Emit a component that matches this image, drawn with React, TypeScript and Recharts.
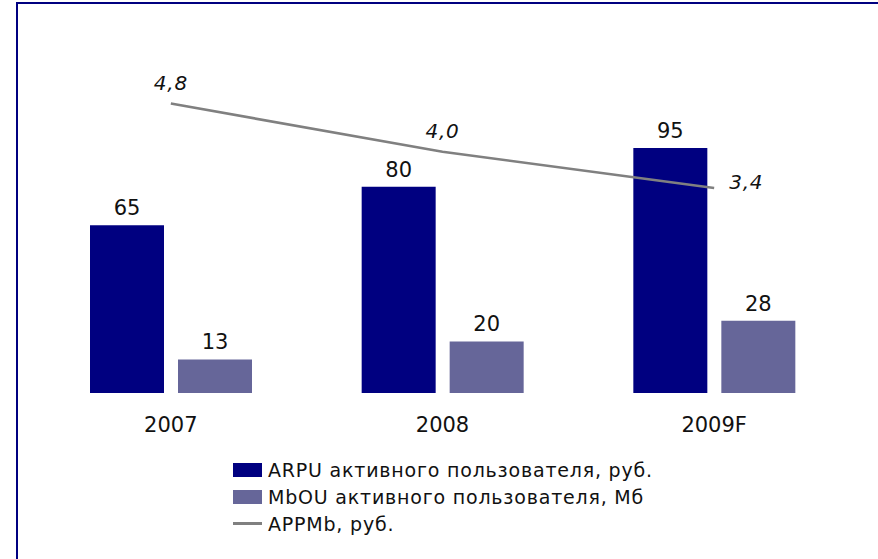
import React from "react";
import {
  ComposedChart,
  Bar,
  Line,
  XAxis,
  YAxis,
  LabelList,
} from "recharts";

// categories and series
const years = ["2007", "2008", "2009F"];
const arpu = [65, 80, 95];
const mbou = [13, 20, 28];
const appmb = [4.8, 4.0, 3.4];

const seriesNames = {
  arpu: "ARPU активного пользователя, руб.",
  mbou: "MbOU активного пользователя, Мб",
  appmb: "APPMb, руб.",
};

const COLORS = {
  arpu: "#000080",
  mbou: "#666699",
  appmb: "#808080",
  border: "#000080",
};

const FONT = "Verdana, 'DejaVu Sans', sans-serif";

const data = years.map((year, i) => ({
  year,
  arpu: arpu[i],
  mbou: mbou[i],
  appmb: appmb[i],
}));

const fmtComma = (v: number) => v.toFixed(1).replace(".", ",");

// labels for the line: above the point, last one to the right
function LineLabel(props: any) {
  const { x, y, value, index } = props;
  const last = index === appmb.length - 1;
  return (
    <text
      x={last ? x + 15 : x}
      y={last ? y + 1 : y - 14}
      textAnchor={last ? "start" : "middle"}
      fontFamily={FONT}
      fontSize={20}
      fontStyle="italic"
      letterSpacing={0.8}
      fill="#111"
    >
      {fmtComma(value)}
    </text>
  );
}

function LegendBox() {
  const rows = [
    { key: "arpu", label: seriesNames.arpu, type: "rect" },
    { key: "mbou", label: seriesNames.mbou, type: "rect" },
    { key: "appmb", label: seriesNames.appmb, type: "line" },
  ];
  return (
    <div
      style={{
        position: "absolute",
        left: 233,
        top: 456,
        fontFamily: FONT,
        fontSize: 19,
        letterSpacing: 0.8,
        color: "#111",
      }}
    >
      {rows.map((r) => (
        <div
          key={r.key}
          style={{ display: "flex", alignItems: "center", height: 27 }}
        >
          <span
            style={{
              display: "inline-block",
              width: 29,
              height: r.type === "rect" ? 14 : 3,
              background: (COLORS as any)[r.key],
              marginRight: 6,
            }}
          />
          <span>{r.label}</span>
        </div>
      ))}
    </div>
  );
}

export default function App() {
  return (
    <div
      style={{
        position: "fixed",
        left: 0,
        top: 0,
        width: 878,
        height: 559,
        overflow: "hidden",
        background: "#fff",
      }}
    >
      <div
        style={{
          position: "absolute",
          left: 16,
          top: 2,
          width: 900,
          height: 620,
          border: `2px solid ${COLORS.border}`,
        }}
      />
      <ComposedChart
        width={878}
        height={559}
        data={data}
        margin={{ top: 93, right: 28, left: 35, bottom: 106 }}
        barGap={14}
        style={{ position: "absolute", left: 0, top: 0 }}
      >
        <XAxis
          dataKey="year"
          axisLine={false}
          tickLine={false}
          tickMargin={18}
          height={60}
          tick={{ fontSize: 21, fill: "#111", fontFamily: FONT }}
        />
        <YAxis yAxisId="bars" hide domain={[0, 116.3]} />
        <YAxis yAxisId="line" hide orientation="right" domain={[0, 4.975]} />
        <Bar
          yAxisId="bars"
          dataKey="arpu"
          name={seriesNames.arpu}
          fill={COLORS.arpu}
          barSize={74}
          isAnimationActive={false}
        >
          <LabelList
            dataKey="arpu"
            position="top"
            offset={10}
            style={{ fontSize: 21, fill: "#111", fontFamily: FONT }}
          />
        </Bar>
        <Bar
          yAxisId="bars"
          dataKey="mbou"
          name={seriesNames.mbou}
          fill={COLORS.mbou}
          barSize={74}
          isAnimationActive={false}
        >
          <LabelList
            dataKey="mbou"
            position="top"
            offset={10}
            style={{ fontSize: 21, fill: "#111", fontFamily: FONT }}
          />
        </Bar>
        <Line
          yAxisId="line"
          dataKey="appmb"
          name={seriesNames.appmb}
          stroke={COLORS.appmb}
          strokeWidth={2.6}
          dot={false}
          activeDot={false}
          isAnimationActive={false}
        >
          <LabelList dataKey="appmb" content={LineLabel} />
        </Line>
      </ComposedChart>
      <LegendBox />
    </div>
  );
}
